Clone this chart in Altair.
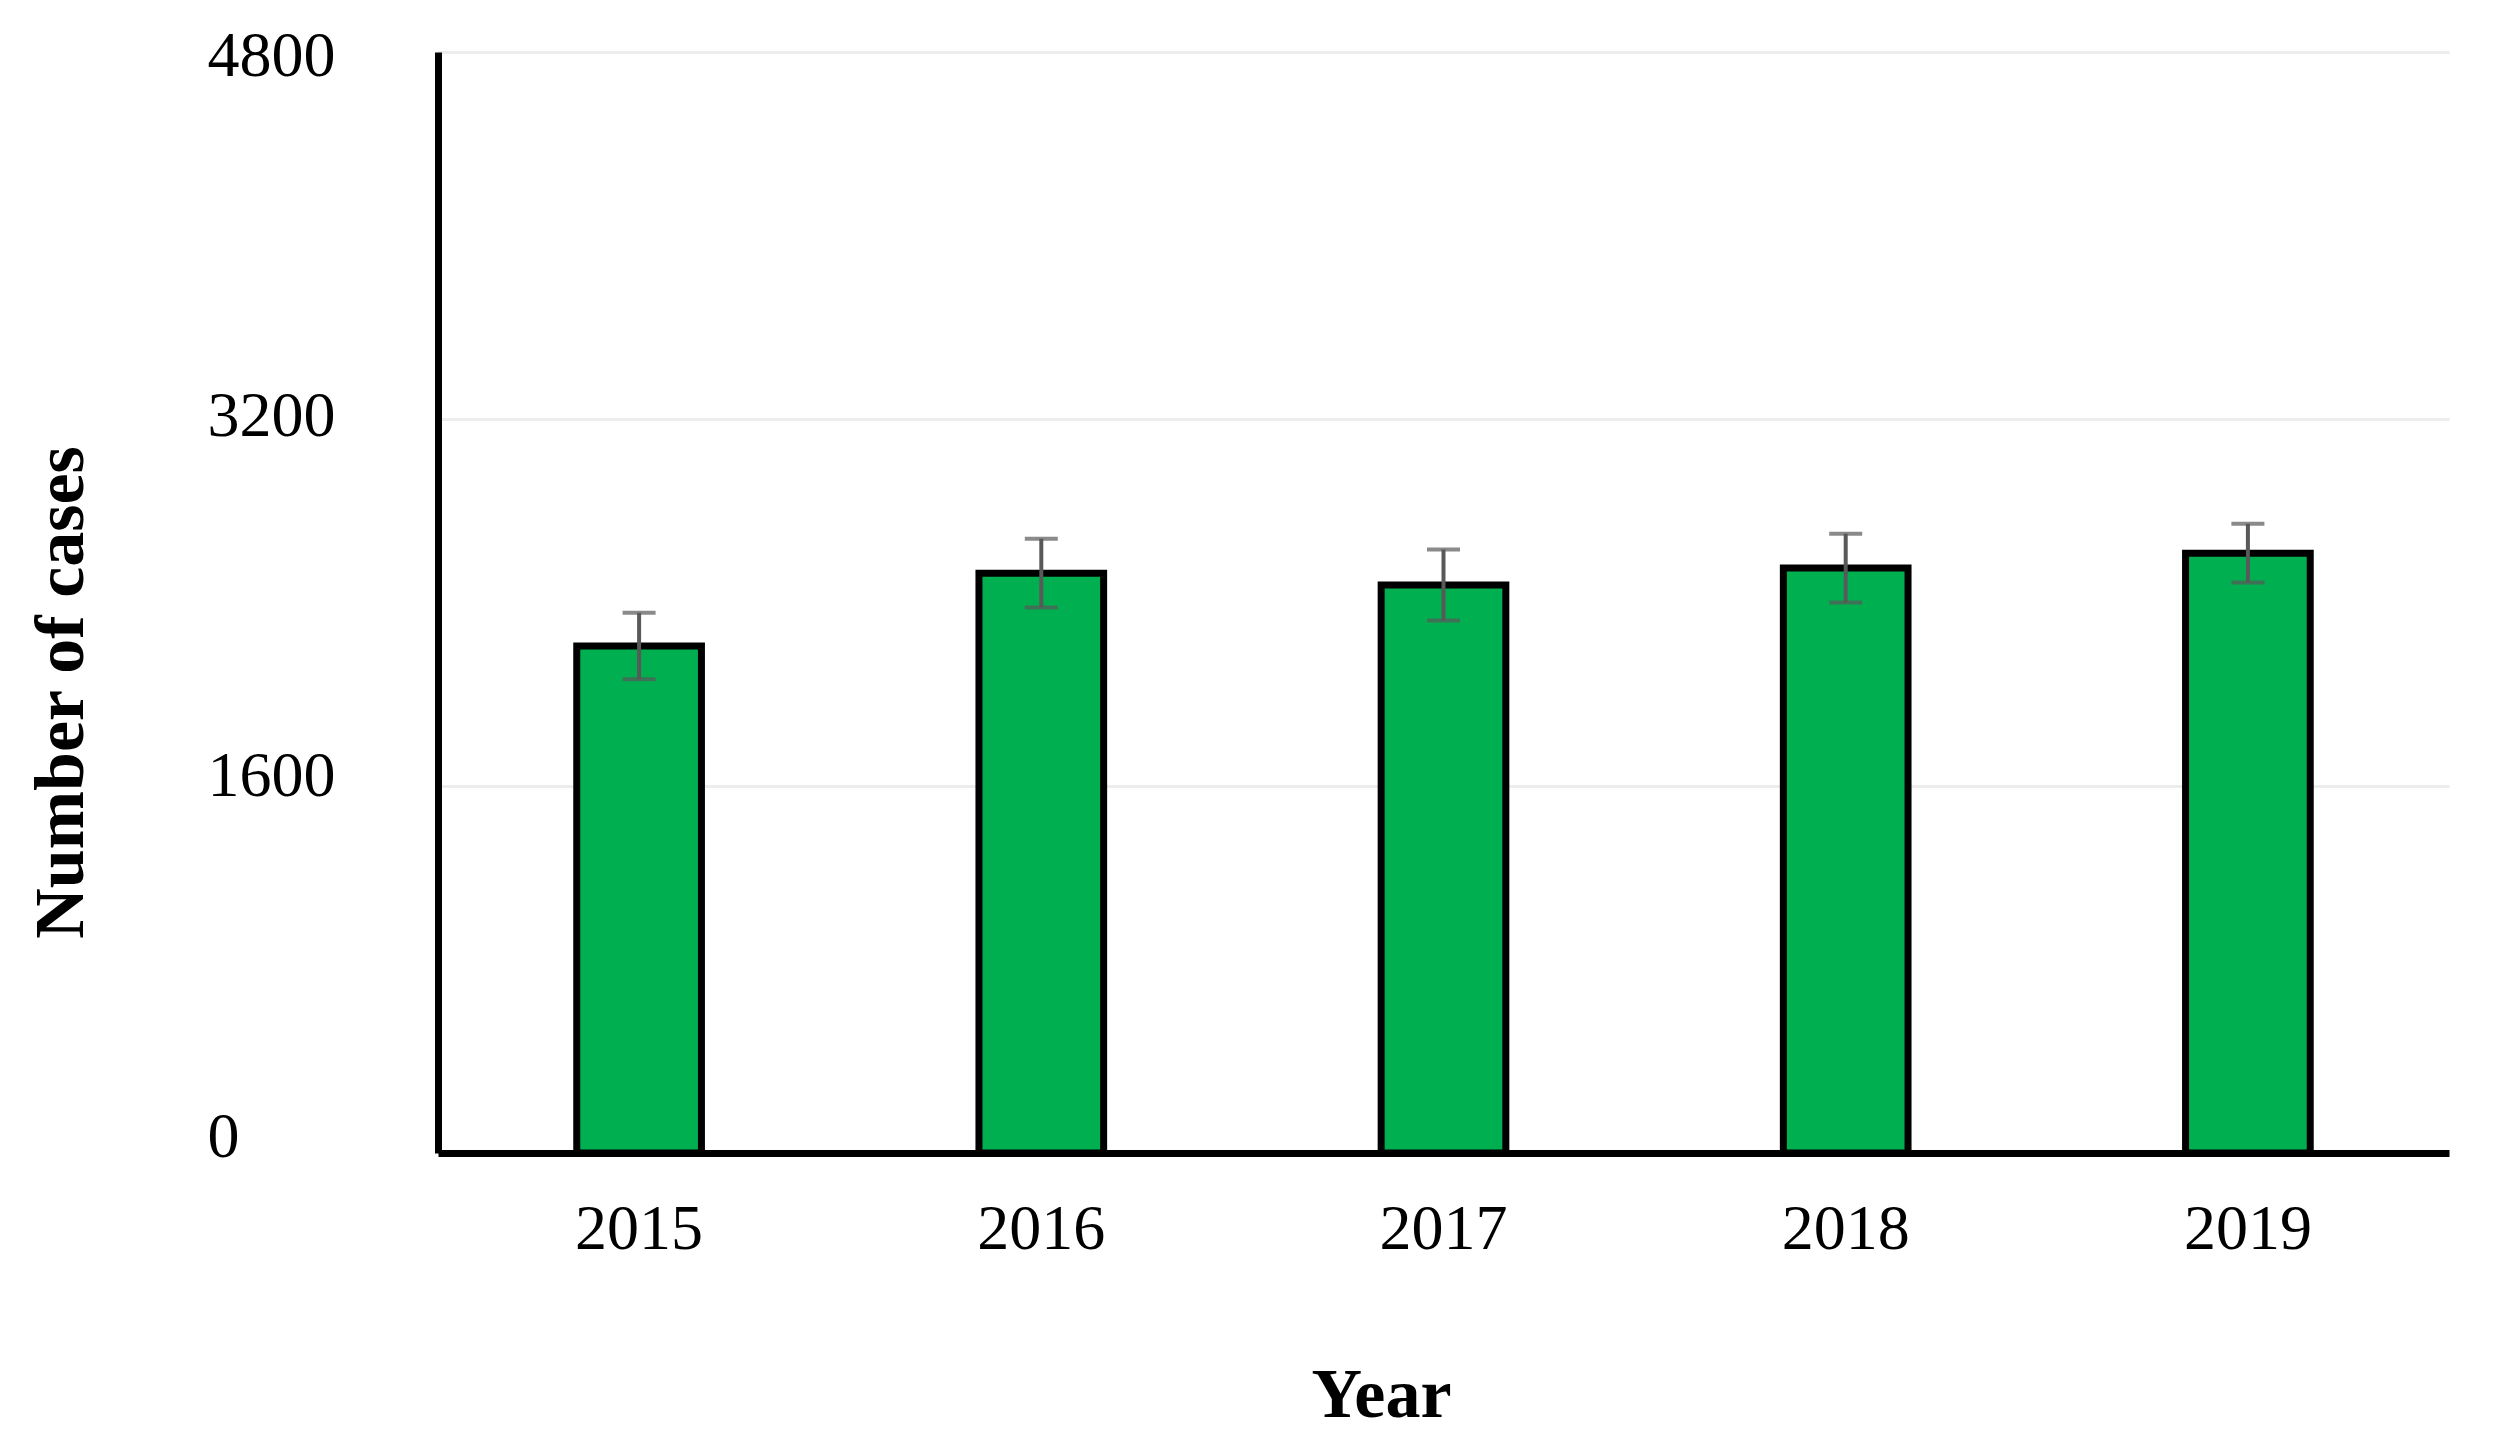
import altair as alt
import pandas as pd

years = ["2015", "2016", "2017", "2018", "2019"]
cases = [2210, 2528, 2476, 2550, 2615]
errors = [145, 150, 155, 150, 128]
y_ticks = [0, 1600, 3200, 4800]

df = pd.DataFrame({"Year": years, "Cases": cases, "Err": errors})
df["Low"] = df["Cases"] - df["Err"]
df["High"] = df["Cases"] + df["Err"]

FONT = "Liberation Serif"

x_enc = alt.X(
    "Year:N",
    sort=years,
    scale=alt.Scale(paddingInner=0.69, paddingOuter=0.345),
    axis=alt.Axis(
        title="Year",
        titleFont=FONT, titleFontSize=70, titleFontWeight="bold", titleColor="black",
        titleX=943, titleY=263, titleAlign="center", titleBaseline="alphabetic",
        labelFont=FONT, labelFontSize=64, labelColor="black", labelAngle=0,
        labelPadding=44, ticks=False,
        domainColor="black", domainWidth=7, grid=False,
    ),
)

y_scale = alt.Scale(domain=[0, 4800], nice=False)

bars = alt.Chart(df).mark_bar(fill="#00B050", stroke="black", strokeWidth=7).encode(
    x=x_enc,
    y=alt.Y(
        "Cases:Q",
        scale=y_scale,
        axis=alt.Axis(
            values=y_ticks,
            format="d",
            title="Number of cases",
            titleFont=FONT, titleFontSize=70, titleFontWeight="bold", titleColor="black",
            titleX=-377, titleY=640, titleAlign="center", titleBaseline="middle", titleAngle=270,
            labelFont=FONT, labelFontSize=64, labelColor="black",
            labelAlign="left", labelBaseline="middle", labelPadding=231,
            labelOffset={"expr": "-16 + datum.value / 240"},
            ticks=False,
            domainColor="black", domainWidth=7,
            grid=True, gridColor="#EDEDED", gridWidth=3,
        ),
    ),
)

err_rule = alt.Chart(df).mark_rule(color="#595959", strokeWidth=4).encode(
    x=alt.X("Year:N", sort=years),
    y=alt.Y("Low:Q", scale=y_scale),
    y2="High:Q",
)

cap_low = alt.Chart(df).mark_tick(color="#595959", size=33, thickness=4, orient="horizontal").encode(
    x=alt.X("Year:N", sort=years),
    y=alt.Y("Low:Q", scale=y_scale),
)
cap_high = alt.Chart(df).mark_tick(color="#595959", size=33, thickness=4, orient="horizontal").encode(
    x=alt.X("Year:N", sort=years),
    y=alt.Y("High:Q", scale=y_scale),
)

chart = (
    alt.layer(bars, err_rule, cap_low, cap_high)
    .properties(
        width=2011,
        height=1101,
        autosize=alt.AutoSizeParams(type="none"),
        padding={"left": 430, "top": 44, "right": 40, "bottom": 280},
        view=alt.ViewBackground(stroke="transparent", strokeWidth=0),
    )
    .configure_view(stroke="transparent", strokeWidth=0)
    .configure_axisX(grid=False)
    .configure(background="white")
)

chart.save("out.html", embed_options={"renderer": "svg", "actions": False})
